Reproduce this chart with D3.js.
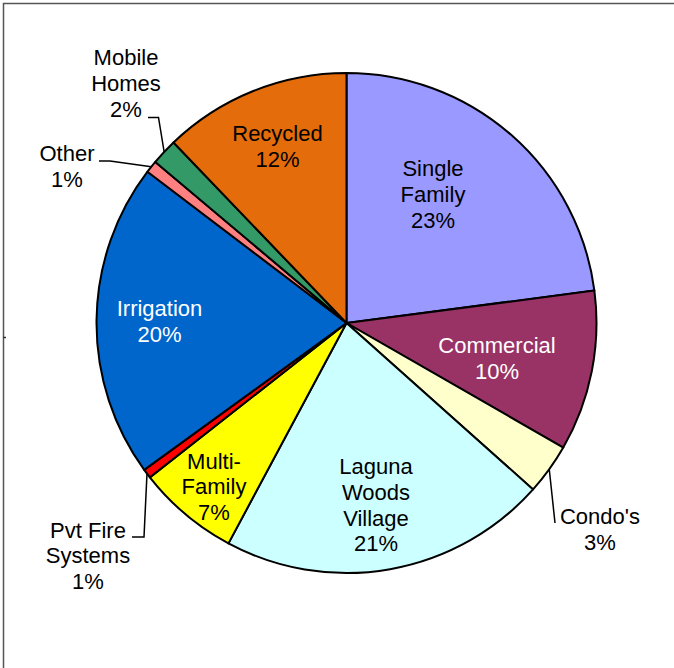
<!DOCTYPE html>
<html>
<head>
<meta charset="utf-8">
<script src="https://cdn.jsdelivr.net/npm/d3@7"></script>
<style>
  body { margin: 0; background: #fff; }
  text { font-family: "Liberation Sans", Arial, sans-serif; font-size: 22px; }
</style>
</head>
<body>
<svg id="chart" width="674" height="668"></svg>
<script>
// Water use by customer class (share of total), clockwise from 12 o'clock
const categories = ["Single Family", "Commercial", "Condo's", "Laguna Woods Village", "Multi-Family",
                    "Pvt Fire Systems", "Irrigation", "Other", "Mobile Homes", "Recycled"];
const shares = [23.0, 10.4, 3.3, 21.3, 6.6, 0.6, 20.4, 0.8, 1.7, 12.2];
const sliceColors = ["#9999FF", "#993366", "#FFFFCC", "#CCFFFF", "#FFFF00",
                     "#FF0000", "#0066CC", "#FF8080", "#339966", "#E46C0A"];
const labelText = [["Single", "Family"], ["Commercial"], ["Condo's"], ["Laguna", "Woods", "Village"],
                   ["Multi-", "Family"], ["Pvt Fire", "Systems"], ["Irrigation"], ["Other"],
                   ["Mobile", "Homes"], ["Recycled"]];
const labelInk = ["#000", "#fff", "#000", "#000", "#000", "#000", "#fff", "#000", "#000", "#000"];

// Label placement: block centre x and first baseline y
const labelAt = {
  "Single Family": [433, 176],
  "Commercial": [497, 353],
  "Condo's": [600, 524],
  "Laguna Woods Village": [376, 474],
  "Multi-Family": [214, 468.5],
  "Pvt Fire Systems": [88, 537.5],
  "Irrigation": [159.5, 316],
  "Other": [67, 161],
  "Mobile Homes": [126, 65],
  "Recycled": [277.5, 141]
};
// Leader line bends for labels placed outside the pie
const leaderBends = {
  "Condo's": [[555, 523]],
  "Pvt Fire Systems": [[144, 537], [132, 537]],
  "Other": [[110, 161], [99, 161]],
  "Mobile Homes": [[158.5, 117.5], [148, 117.5]]
};

const lineHeight = 25.8;
const cx = 346.5, cy = 323, radius = 250;

const svg = d3.select("#chart");

// chart frame
svg.append("rect")
  .attr("x", 3.5).attr("y", 3.5)
  .attr("width", 700).attr("height", 700)
  .attr("fill", "none").attr("stroke", "#555").attr("stroke-width", 1.5);
svg.append("line")
  .attr("x1", 3).attr("x2", 6).attr("y1", 337.5).attr("y2", 337.5)
  .attr("stroke", "#333").attr("stroke-width", 1.5);

const data = categories.map((c, i) => ({ name: c, value: shares[i], color: sliceColors[i],
  lines: labelText[i], ink: labelInk[i] }));
const total = d3.sum(shares);

const pie = d3.pie().sort(null).value(d => d.value).startAngle(0).endAngle(2 * Math.PI);
const arc = d3.arc().innerRadius(0).outerRadius(radius);
const arcs = pie(data);

const g = svg.append("g").attr("transform", `translate(${cx},${cy})`);

g.selectAll("path.slice")
  .data(arcs)
  .join("path")
  .attr("class", "slice")
  .attr("d", arc)
  .attr("fill", d => d.data.color)
  .attr("stroke", "#000")
  .attr("stroke-width", 2)
  .attr("stroke-linejoin", "round");

// leader lines from the slice's outer edge
const edge = d3.arc().innerRadius(radius).outerRadius(radius);
const leaders = arcs.filter(d => leaderBends[d.data.name]);
svg.selectAll("polyline.leader")
  .data(leaders)
  .join("polyline")
  .attr("class", "leader")
  .attr("points", d => {
    const [ex, ey] = edge.centroid(d);
    const pts = [[cx + ex, cy + ey]].concat(leaderBends[d.data.name]);
    return pts.map(p => p.join(",")).join(" ");
  })
  .attr("fill", "none")
  .attr("stroke", "#000")
  .attr("stroke-width", 1.5);

// labels: category name lines followed by rounded percentage
const labels = svg.selectAll("text.label")
  .data(arcs)
  .join("text")
  .attr("class", "label")
  .attr("text-anchor", "middle")
  .attr("fill", d => d.data.ink);

labels.each(function (d) {
  const [x, y] = labelAt[d.data.name];
  const pct = Math.round(d.data.value / total * 100) + "%";
  const lines = d.data.lines.concat([pct]);
  d3.select(this).selectAll("tspan")
    .data(lines)
    .join("tspan")
    .attr("x", x)
    .attr("y", (t, i) => y + i * lineHeight)
    .text(t => t);
});
</script>
</body>
</html>
